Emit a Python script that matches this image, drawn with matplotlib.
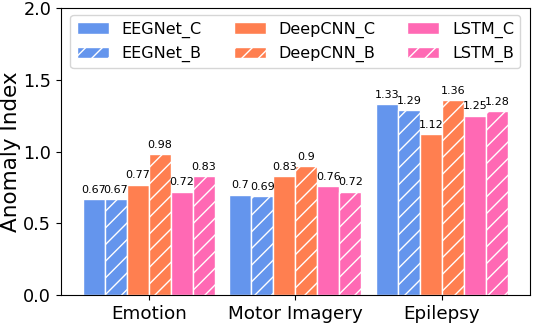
import matplotlib
matplotlib.use("Agg")
import matplotlib.pyplot as plt
import numpy as np

plt.rcParams['hatch.color'] = 'white'
plt.rcParams['hatch.linewidth'] = 1.0

categories = ["Emotion", "Motor Imagery", "Epilepsy"]
series_names = ["EEGNet_C", "EEGNet_B", "DeepCNN_C", "DeepCNN_B", "LSTM_C", "LSTM_B"]
eegnet_c = [0.67, 0.70, 1.33]
eegnet_b = [0.67, 0.69, 1.29]
deepcnn_c = [0.77, 0.83, 1.12]
deepcnn_b = [0.98, 0.90, 1.36]
lstm_c = [0.72, 0.76, 1.25]
lstm_b = [0.83, 0.72, 1.28]
labels = [["0.67", "0.7", "1.33"], ["0.67", "0.69", "1.29"], ["0.77", "0.83", "1.12"],
          ["0.98", "0.9", "1.36"], ["0.72", "0.76", "1.25"], ["0.83", "0.72", "1.28"]]

series = [eegnet_c, eegnet_b, deepcnn_c, deepcnn_b, lstm_c, lstm_b]
colors = ["#6495ED", "#6495ED", "#FF7F50", "#FF7F50", "#FF69B4", "#FF69B4"]
hatches = [None, "//", None, "//", None, "//"]

fig, ax = plt.subplots(figsize=(5.34, 3.24), dpi=100)
x = np.arange(len(categories))
w = 0.15
for i, (vals, name) in enumerate(zip(series, series_names)):
    pos = x + (i - 2.5) * w
    bars = ax.bar(pos, vals, w, color=colors[i], edgecolor='white', linewidth=1.0,
                  hatch=hatches[i], label=name)
    for b, lab in zip(bars, labels[i]):
        ax.text(b.get_x() + b.get_width() / 2, b.get_height() + 0.03, lab,
                ha='center', va='bottom', fontsize=8)

ax.set_xticks(x)
ax.set_xticklabels(categories, fontsize=13.2)
ax.set_xlim(-0.6, 2.6)
ax.set_ylim(0, 2.0)
ax.set_yticks([0.0, 0.5, 1.0, 1.5, 2.0])
ax.tick_params(axis='y', labelsize=12.7)
ax.set_ylabel("Anomaly Index", fontsize=15.5, labelpad=2)
ax.legend(ncol=3, loc='upper center', fontsize=11.5, columnspacing=2.0,
          handlelength=2.0, handletextpad=0.8, borderaxespad=0.45)
plt.subplots_adjust(left=0.114, right=0.9925, top=0.975, bottom=0.0895)
fig.savefig("out.png", dpi=100)
